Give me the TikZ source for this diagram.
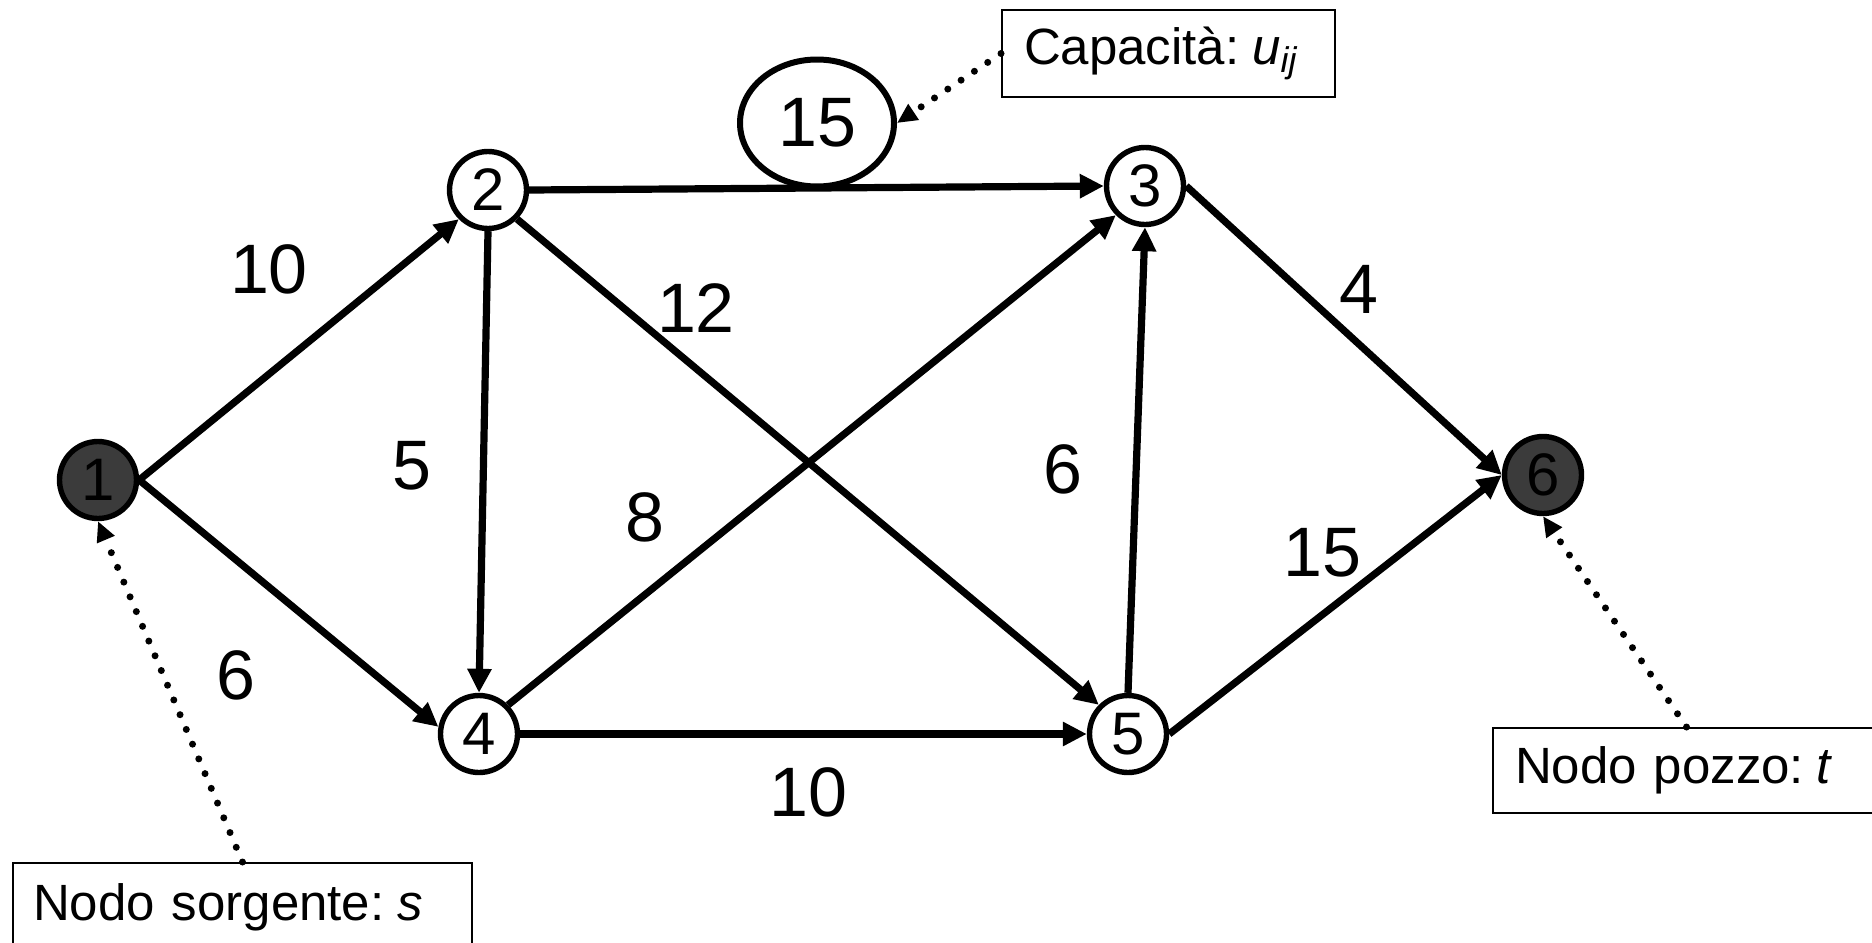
\documentclass[tikz,border=0pt]{standalone}
\usepackage{fontspec}
\setmainfont{Liberation Sans}
\usetikzlibrary{arrows.meta,shapes.geometric}
\begin{document}
\begin{tikzpicture}[x=0.5pt,y=-0.5pt,
  vtx/.style={circle,draw,line width=2.7pt,minimum size=38.5pt,inner sep=0pt,font=\fontsize{30}{30}\selectfont},
  srcvtx/.style={vtx,fill=black!77},
  arc/.style={line width=3.6pt,-{Triangle[length=12pt,width=11.5pt]}},
  lbl/.style={font=\fontsize{35}{35}\selectfont,inner sep=0pt},
  note/.style={draw,line width=1pt,font=\fontsize{25.5}{25.5}\selectfont,align=left,inner ysep=0pt},
  callout/.style={line width=3.5pt,dash pattern=on 0pt off 8pt,line cap=round,-{Triangle[length=10pt,width=9pt]}}]
\useasboundingbox (0,0) rectangle (1872,942);
\clip (0,0) rectangle (1872,942);

% vertices
\node[srcvtx] (n1) at (98,480) {1};
\node[vtx] (n2) at (488,190) {2};
\node[vtx] (n3) at (1145,186) {3};
\node[vtx] (n4) at (479,734) {4};
\node[vtx] (n5) at (1128,734) {5};
\node[srcvtx] (n6) at (1543,475) {6};

% arcs
\draw[arc] (n1.east) -- (n2.south west);
\draw[arc] (n1.east) -- (n4.170);
\draw[arc] (n2.east) -- (n3.west);
\draw[arc] (n2.south) -- (n4.north);
\draw[arc] (n2.south east) -- (n5.north west);
\draw[arc] (n4.north east) -- (n3.south west);
\draw[arc] (n4.east) -- (n5.west);
\draw[arc] (n5.north) -- (n3.south);
\draw[arc] (n3.east) -- (n6.west);
\draw[arc] (n5.east) -- (n6.west);

% capacity labels
\node[lbl] (l12) at (269,269) {10};
\node[lbl] (l14) at (236,675) {6};
\node[lbl] (l24) at (412,466) {5};
\node[lbl] (l25) at (696,308) {12};
\node[lbl] (l43) at (645,517) {8};
\node[lbl] (l53) at (1063,469) {6};
\node[lbl] (l36) at (1359,289) {4};
\node[lbl] (l56) at (1322,553) {15};
\node[lbl] (l45) at (808,792) {10};
\node[ellipse,draw,line width=3pt,minimum width=77pt,minimum height=63.5pt,inner sep=0pt,font=\fontsize{35}{35}\selectfont] (e) at (817,123) {15};

% notes
\node[note,minimum width=166.5pt,minimum height=43.5pt,text width=144.5pt,inner xsep=11pt] (capbox) at (1168.5,53.5) {Capacità:\hspace{0.25em}\textit{u}\textsubscript{\textit{ij}}};
\node[note,minimum width=229.5pt,minimum height=44.5pt,text width=209.5pt,inner xsep=10pt] (srcbox) at (242.5,907.5) {Nodo sorgente:\hspace{0.25em}\textit{s}};
\node[note,minimum width=193.5pt,minimum height=42.5pt,text width=171.5pt,inner xsep=11pt] (sinkbox) at (1686.5,770.5) {Nodo pozzo:\hspace{0.25em}\textit{t}};

% callouts
\draw[callout] (capbox.west) -- (e.east);
\draw[callout] (srcbox.north) -- (n1.south);
\draw[callout] (sinkbox.north) -- (n6.south);
\end{tikzpicture}
\end{document}
